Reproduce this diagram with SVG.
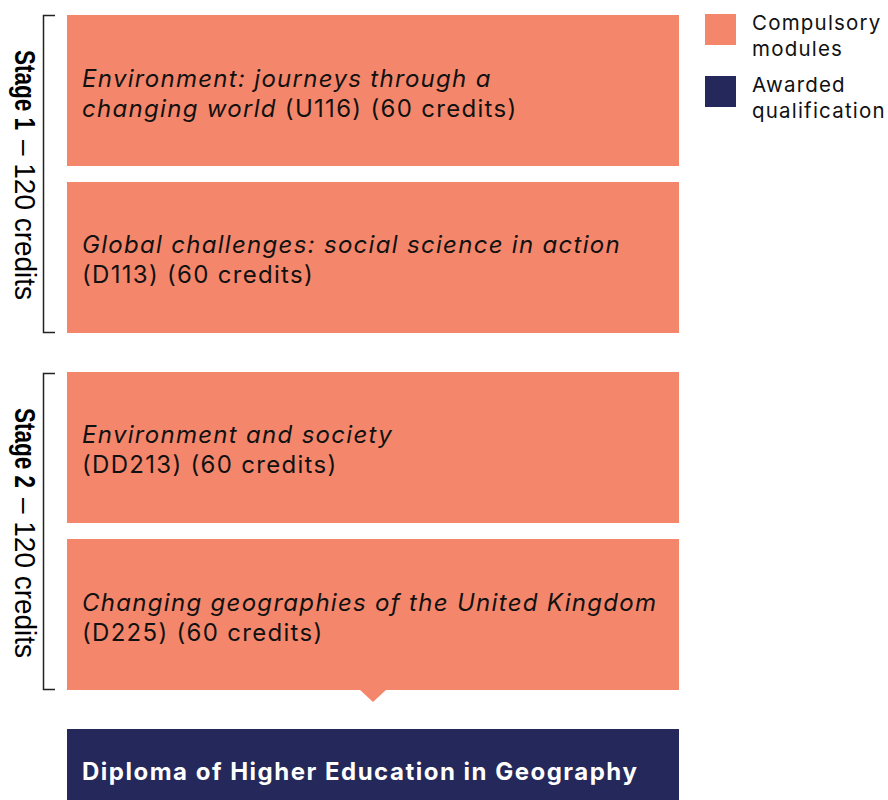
<svg xmlns="http://www.w3.org/2000/svg" width="888" height="800" viewBox="0 0 888 800">
<style>
.mod{fill:#F4876B}
.nav{fill:#24285B}
.t{font-family:Inter,"Open Sans","Liberation Sans",sans-serif;font-size:24px;letter-spacing:1.3px;fill:#111}
.i{font-style:italic}
.lg{font-family:Inter,"Open Sans","Liberation Sans",sans-serif;font-size:20.5px;letter-spacing:1.2px;fill:#111}
.st{font-family:"Liberation Sans",Arial,sans-serif;font-size:30px;fill:#000}
.br{fill:none;stroke:#222;stroke-width:1.5}
.q{font-family:Inter,"Open Sans","Liberation Sans",sans-serif;font-size:24px;letter-spacing:1.5px;font-weight:bold;fill:#fff}
</style>
<rect width="888" height="800" fill="#fff"/>
<g id="stage1">
<path class="br" d="M55,15.5 H43.5 V332.5 H55"/>
<text class="st" font-weight="bold" transform="translate(15,50) rotate(90)" textLength="80" lengthAdjust="spacingAndGlyphs">Stage 1</text>
<text class="st" transform="translate(15,140) rotate(90)" textLength="160" lengthAdjust="spacingAndGlyphs">– 120 credits</text>
</g>
<g id="stage2">
<path class="br" d="M55,373.5 H43.5 V689.5 H55"/>
<text class="st" font-weight="bold" transform="translate(15,408) rotate(90)" textLength="80" lengthAdjust="spacingAndGlyphs">Stage 2</text>
<text class="st" transform="translate(15,498) rotate(90)" textLength="160" lengthAdjust="spacingAndGlyphs">– 120 credits</text>
</g>
<g id="u116">
<rect class="mod" x="67" y="15" width="612" height="151"/>
<text class="t" x="82" y="87"><tspan class="i">Environment: journeys through a</tspan></text>
<text class="t" x="82" y="117"><tspan class="i">changing world</tspan> (U116) (60 credits)</text>
</g>
<g id="d113">
<rect class="mod" x="67" y="182" width="612" height="151"/>
<text class="t" x="82" y="253"><tspan class="i">Global challenges: social science in action</tspan></text>
<text class="t" x="82" y="283">(D113) (60 credits)</text>
</g>
<g id="dd213">
<rect class="mod" x="67" y="372" width="612" height="151"/>
<text class="t" x="82" y="443"><tspan class="i">Environment and society</tspan></text>
<text class="t" x="82" y="473">(DD213) (60 credits)</text>
</g>
<g id="d225">
<rect class="mod" x="67" y="539" width="612" height="151"/>
<polygon class="mod" points="359,689 387,689 373,702"/>
<text class="t" x="82" y="611"><tspan class="i">Changing geographies of the United Kingdom</tspan></text>
<text class="t" x="82" y="641">(D225) (60 credits)</text>
</g>
<g id="diploma">
<rect class="nav" x="67" y="729" width="612" height="71"/>
<text class="q" x="82" y="780">Diploma of Higher Education in Geography</text>
</g>
<g id="legend">
<rect class="mod" x="705" y="14" width="31" height="31"/>
<text class="lg" x="752" y="30">Compulsory</text>
<text class="lg" x="752" y="56">modules</text>
<rect class="nav" x="705" y="76" width="31" height="31"/>
<text class="lg" x="752" y="92">Awarded</text>
<text class="lg" x="752" y="118">qualification</text>
</g>
<g id="connectors"></g>
</svg>
